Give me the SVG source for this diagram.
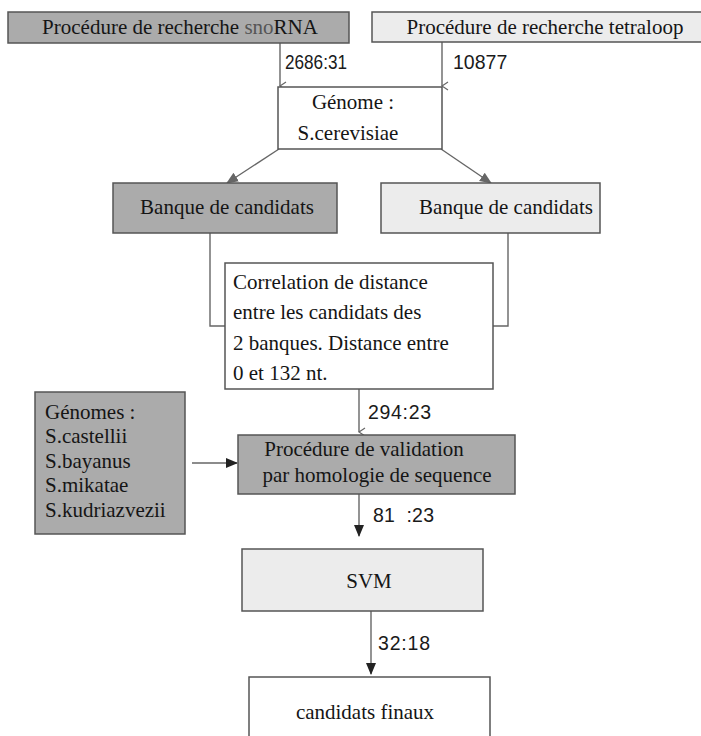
<svg xmlns="http://www.w3.org/2000/svg" width="701" height="736" viewBox="0 0 701 736">
  <style>
    .box { stroke: #555; stroke-width: 1.5; }
    .dark { fill: #ababab; }
    .light { fill: #ececec; }
    .white { fill: #ffffff; }
    .t { font-family: "Liberation Serif", "Times New Roman", serif; font-size: 21px; fill: #151515; }
    .c { text-anchor: middle; }
    .n { font-family: "Liberation Sans", Arial, sans-serif; font-size: 19.5px; fill: #1a1a1a; }
    .line { fill: none; stroke: #666; stroke-width: 1.4; }
  </style>
  <defs>
    <marker id="open" viewBox="0 0 10 10" refX="5" refY="9" markerWidth="10" markerHeight="10" markerUnits="userSpaceOnUse" orient="auto-start-reverse">
      <path d="M1,3 L5,9 L9,3" fill="none" stroke="#666" stroke-width="1.2"/>
    </marker>
    <marker id="grey" viewBox="0 0 12 12" refX="11" refY="6" markerWidth="12" markerHeight="12" markerUnits="userSpaceOnUse" orient="auto">
      <path d="M0,1 L12,6 L0,11 Z" fill="#666"/>
    </marker>
    <marker id="black" viewBox="0 0 12 12" refX="11" refY="6" markerWidth="12" markerHeight="12" markerUnits="userSpaceOnUse" orient="auto">
      <path d="M0,1 L12,6 L0,11 Z" fill="#222"/>
    </marker>
  </defs>

  <rect width="701" height="736" fill="#ffffff"/>

  <!-- connectors -->
  <g id="connectors">
    <line class="line" x1="280" y1="43" x2="280" y2="86" marker-end="url(#open)"/>
    <line class="line" x1="442" y1="42" x2="442" y2="86" marker-end="url(#open)"/>
    <line class="line" x1="279" y1="149" x2="227" y2="183" marker-end="url(#grey)"/>
    <line class="line" x1="441" y1="149" x2="491" y2="183" marker-end="url(#grey)"/>
    <polyline class="line" points="210,233 210,326 225,326"/>
    <polyline class="line" points="508,233 508,326 493,326"/>
    <line class="line" x1="359" y1="389" x2="359" y2="432" marker-end="url(#open)"/>
    <line class="line" x1="192" y1="463" x2="237" y2="463" stroke="#444" marker-end="url(#black)"/>
    <line class="line" x1="359" y1="494" x2="359" y2="536" stroke="#444" marker-end="url(#black)"/>
    <line class="line" x1="371" y1="611" x2="371" y2="674" stroke="#444" marker-end="url(#black)"/>
    <text class="n" x="285" y="69" textLength="62" lengthAdjust="spacingAndGlyphs">2686:31</text>
    <text class="n" x="453" y="69">10877</text>
    <text class="n" x="368" y="419" textLength="63">294:23</text>
    <text class="n" x="373" y="522" xml:space="preserve" textLength="61">81  :23</text>
    <text class="n" x="378" y="650" textLength="52">32:18</text>
  </g>

  <g id="snorna">
    <rect class="box dark" x="8" y="12" width="341" height="31"/>
    <text class="t c" x="180" y="34">Procédure de recherche <tspan fill="#555">sno</tspan>RNA</text>
  </g>

  <g id="tetraloop">
    <rect class="box light" x="372" y="12" width="330" height="30"/>
    <text class="t c" x="545" y="34">Procédure de recherche tetraloop</text>
  </g>

  <g id="genome">
    <rect class="box white" x="278" y="87" width="164" height="62"/>
    <text class="t c" x="353" y="109">Génome :</text>
    <text class="t c" x="348" y="140">S.cerevisiae</text>
  </g>

  <g id="banque1">
    <rect class="box dark" x="113" y="183" width="224" height="50"/>
    <text class="t c" x="227" y="214">Banque de candidats</text>
  </g>

  <g id="banque2">
    <rect class="box light" x="381" y="183" width="219" height="50"/>
    <text class="t c" x="506" y="214">Banque de candidats</text>
  </g>

  <g id="correlation">
    <rect class="box white" x="225" y="263" width="268" height="126"/>
    <text class="t" x="233" y="289">Correlation de distance</text>
    <text class="t" x="233" y="319">entre les candidats des</text>
    <text class="t" x="233" y="350">2 banques. Distance entre</text>
    <text class="t" x="233" y="380">0 et 132 nt.</text>
  </g>

  <g id="genomes">
    <rect class="box dark" x="35" y="392" width="150" height="142"/>
    <text class="t" x="45" y="419">Génomes :</text>
    <text class="t" x="45" y="443">S.castellii</text>
    <text class="t" x="45" y="468">S.bayanus</text>
    <text class="t" x="45" y="492">S.mikatae</text>
    <text class="t" x="45" y="517">S.kudriazvezii</text>
  </g>

  <g id="validation">
    <rect class="box dark" x="238" y="435" width="277" height="59"/>
    <text class="t c" x="364" y="456">Procédure de validation</text>
    <text class="t c" x="377" y="482">par homologie de sequence</text>
  </g>

  <g id="svm">
    <rect class="box light" x="242" y="549" width="241" height="62"/>
    <text class="t c" x="369" y="588">SVM</text>
  </g>

  <g id="final">
    <rect class="box white" x="249" y="677" width="241" height="70"/>
    <text class="t c" x="365" y="719">candidats finaux</text>
  </g>
</svg>
